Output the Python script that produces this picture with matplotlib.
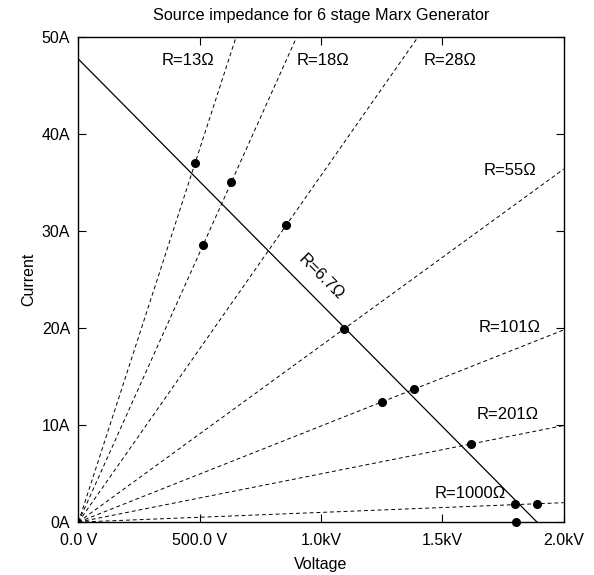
import numpy as np
import matplotlib.pyplot as plt
from matplotlib.ticker import FixedLocator, FixedFormatter

plt.rcParams['font.family'] = ['Liberation Sans', 'DejaVu Sans']

# load lines through the origin, R in ohms
resistances = [13, 18, 28, 55, 101, 201, 1000]
res_labels = ["R=13Ω", "R=18Ω", "R=28Ω", "R=55Ω", "R=101Ω", "R=201Ω", "R=1000Ω"]
label_v = [452, 1010, 1530, 1778, 1778, 1770, 1615]
label_i = [47.6, 47.6, 47.6, 36.2, 20.0, 11.1, 2.9]

# source line of the generator
source_v = [0, 1890]
source_i = [47.7, 0]

# measured points
meas_v = [480, 513, 630, 855, 1095, 1252, 1385, 1620, 1800, 1890, 1805]
meas_i = [37.0, 28.5, 35.0, 30.6, 19.9, 12.4, 13.7, 8.05, 1.82, 1.88, 0.0]

x_ticks = [0, 500, 1000, 1500, 2000]
x_tick_labels = ["0.0 V", "500.0 V", "1.0kV", "1.5kV", "2.0kV"]
y_ticks = [0, 10, 20, 30, 40, 50]
y_tick_labels = ["0A", "10A", "20A", "30A", "40A", "50A"]

fig = plt.figure(figsize=(5.94, 5.75), dpi=100)
ax = fig.add_axes([0.132, 0.092, 0.817, 0.844])

v = np.array([0, 2000])
for r, lab, lv, li in zip(resistances, res_labels, label_v, label_i):
    ax.plot(v, v / r, color="black", lw=0.7, ls=(0, (4, 3)))
    ax.text(lv, li, lab, fontsize=12, ha="center", va="center")

ax.plot(source_v, source_i, color="black", lw=0.9)
ax.text(998, 25.2, "R=6.7Ω", fontsize=12, ha="center", va="center", rotation=-45)

ax.plot(meas_v, meas_i, "o", color="black", ms=5.5, clip_on=False)

ax.set_xlim(0, 2000)
ax.set_ylim(0, 50)
ax.xaxis.set_major_locator(FixedLocator(x_ticks))
ax.xaxis.set_major_formatter(FixedFormatter(x_tick_labels))
ax.yaxis.set_major_locator(FixedLocator(y_ticks))
ax.yaxis.set_major_formatter(FixedFormatter(y_tick_labels))
ax.tick_params(direction="in", top=True, right=True, length=6, width=0.8, labelsize=11.5)
ax.tick_params(axis="x", pad=8)
ax.tick_params(axis="y", pad=6)
for s in ax.spines.values():
    s.set_linewidth(1.0)

ax.set_xlabel("Voltage", fontsize=11.5, labelpad=6)
ax.set_ylabel("Current", fontsize=11.5)
ax.set_title("Source impedance for 6 stage Marx Generator", fontsize=11.7, pad=12)

fig.savefig("out.png", dpi=100)
